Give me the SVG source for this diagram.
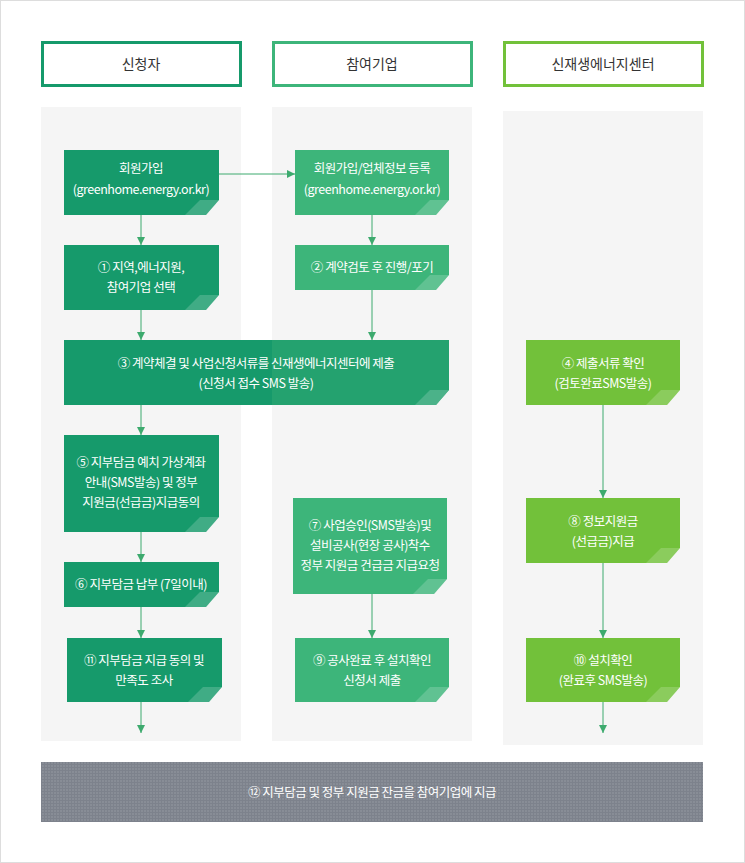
<svg xmlns="http://www.w3.org/2000/svg" width="745" height="863" viewBox="0 0 745 863">
<style>
.t{font-family:"Noto Sans CJK KR","Noto Sans",sans-serif;font-size:12.5px;fill:#fff;text-anchor:middle;letter-spacing:-0.5px}
.h{font-family:"Noto Sans CJK KR","Noto Sans",sans-serif;font-size:14px;fill:#333;text-anchor:middle}
.c{stroke:#3daa6e;stroke-width:1;fill:none;marker-end:url(#a)}
.f{fill:#fff;fill-opacity:0.18}
</style>
<defs>
<marker id="a" viewBox="0 0 8 8" refX="8" refY="4" markerWidth="8" markerHeight="8" markerUnits="userSpaceOnUse" orient="auto"><path d="M0,0 L8,4 L0,8z" fill="#3daa6e"/></marker>
<pattern id="g" width="3" height="3" patternUnits="userSpaceOnUse"><rect width="3" height="3" fill="#7d828c"/><rect width="2" height="2" fill="#888d96"/></pattern>
</defs>
<rect x="0.5" y="0.5" width="744" height="862" fill="#fff" stroke="#ddd"/>
<g id="headers">
<rect x="42.5" y="42.5" width="198" height="43" fill="#fff" stroke="#169a6b" stroke-width="3"/>
<text class="h" x="141" y="69">신청자</text>
<rect x="273.5" y="42.5" width="198" height="43" fill="#fff" stroke="#3db57a" stroke-width="3"/>
<text class="h" x="372" y="69">참여기업</text>
<rect x="504.5" y="42.5" width="198" height="43" fill="#fff" stroke="#72c13a" stroke-width="3"/>
<text class="h" x="603" y="69">신재생에너지센터</text>
</g>
<g id="lanes" fill="#f5f5f5">
<rect x="41" y="107" width="200" height="634"/>
<rect x="272" y="107" width="200" height="634"/>
<rect x="503" y="111" width="200" height="634"/>
</g>
<g id="connectors">
<line class="c" x1="219" y1="174" x2="295" y2="174"/>
<line class="c" x1="141" y1="215" x2="141" y2="245"/>
<line class="c" x1="141" y1="310" x2="141" y2="340"/>
<line class="c" x1="141" y1="405" x2="141" y2="435"/>
<line class="c" x1="141" y1="532" x2="141" y2="562"/>
<line class="c" x1="141" y1="607" x2="141" y2="638"/>
<line class="c" x1="141" y1="702" x2="141" y2="733"/>
<line class="c" x1="372" y1="215" x2="372" y2="245"/>
<line class="c" x1="372" y1="290" x2="372" y2="340"/>
<line class="c" x1="372" y1="594" x2="372" y2="638"/>
<line class="c" x1="603" y1="405" x2="603" y2="498"/>
<line class="c" x1="603" y1="563" x2="603" y2="638"/>
<line class="c" x1="603" y1="702" x2="603" y2="733"/>
</g>
<g id="n1"><polygon points="64,150 219,150 219,200 206,215 64,215" fill="#169a6b"/><polygon class="f" points="185,215 200,200 219,200 206,215"/>
<text class="t" x="141" y="173">회원가입</text><text class="t" x="141" y="194">(greenhome.energy.or.kr)</text></g>
<g id="n_1"><polygon points="64,245 219,245 219,295 206,310 64,310" fill="#169a6b"/><polygon class="f" points="185,310 200,295 219,295 206,310"/>
<text class="t" x="141" y="272">① 지역,에너지원,</text><text class="t" x="141" y="292">참여기업 선택</text></g>
<g id="n3"><polygon points="64,340 449,340 449,390 436,405 64,405" fill="#169a6b"/><polygon points="272,340 449,340 449,390 436,405 272,405" fill="#2fa872" opacity="0.6"/><polygon class="f" points="415,405 430,390 449,390 436,405"/>
<text class="t" x="256" y="368">③ 계약체결 및 사업신청서류를 신재생에너지센터에 제출</text><text class="t" x="256" y="388">(신청서 접수 SMS 발송)</text></g>
<g id="n5"><polygon points="64,435 219,435 219,517 206,532 64,532" fill="#169a6b"/><polygon class="f" points="185,532 200,517 219,517 206,532"/>
<text class="t" x="141" y="467">⑤ 지부담금 예치 가상계좌</text><text class="t" x="141" y="487">안내(SMS발송) 및 정부</text><text class="t" x="141" y="507">지원금(선급금)지급동의</text></g>
<g id="n6"><polygon points="64,562 219,562 219,592 206,607 64,607" fill="#169a6b"/><polygon class="f" points="185,607 200,592 219,592 206,607"/>
<text class="t" x="141" y="589">⑥ 지부담금 납부 (7일이내)</text></g>
<g id="n11"><polygon points="67,638 222,638 222,687 209,702 67,702" fill="#169a6b"/><polygon class="f" points="188,702 203,687 222,687 209,702"/>
<text class="t" x="144" y="665">⑪ 지부담금 지급 동의 및</text><text class="t" x="144" y="685">만족도 조사</text></g>
<g id="m1"><polygon points="295,150 449,150 449,200 436,215 295,215" fill="#3db57a"/><polygon class="f" points="415,215 430,200 449,200 436,215"/>
<text class="t" x="372" y="173">회원가입/업체정보 등록</text><text class="t" x="372" y="194">(greenhome.energy.or.kr)</text></g>
<g id="m2"><polygon points="295,245 449,245 449,275 436,290 295,290" fill="#3db57a"/><polygon class="f" points="415,290 430,275 449,275 436,290"/>
<text class="t" x="372" y="272">② 계약검토 후 진행/포기</text></g>
<g id="m7"><polygon points="293,498 447,498 447,579 434,594 293,594" fill="#3db57a"/><polygon class="f" points="413,594 428,579 447,579 434,594"/>
<text class="t" x="370" y="530">⑦ 사업승인(SMS발송)및</text><text class="t" x="370" y="550">설비공사(현장 공사)착수</text><text class="t" x="370" y="570">정부 지원금 건급금 지급요청</text></g>
<g id="m9"><polygon points="295,638 449,638 449,687 436,702 295,702" fill="#3db57a"/><polygon class="f" points="415,702 430,687 449,687 436,702"/>
<text class="t" x="372" y="665">⑨ 공사완료 후 설치확인</text><text class="t" x="372" y="685">신청서 제출</text></g>
<g id="c4"><polygon points="526,340 680,340 680,390 667,405 526,405" fill="#72c13a"/><polygon class="f" points="646,405 661,390 680,390 667,405"/>
<text class="t" x="603" y="368">④ 제출서류 확인</text><text class="t" x="603" y="388">(검토완료SMS발송)</text></g>
<g id="c8"><polygon points="526,498 680,498 680,548 667,563 526,563" fill="#72c13a"/><polygon class="f" points="646,563 661,548 680,548 667,563"/>
<text class="t" x="603" y="526">⑧ 정보지원금</text><text class="t" x="603" y="546">(선급금)지급</text></g>
<g id="c10"><polygon points="526,638 680,638 680,687 667,702 526,702" fill="#72c13a"/><polygon class="f" points="646,702 661,687 680,687 667,702"/>
<text class="t" x="603" y="665">⑩ 설치확인</text><text class="t" x="603" y="685">(완료후 SMS발송)</text></g>
<g id="n12"><rect x="41" y="762" width="662" height="60" fill="url(#g)"/>
<text class="t" x="372" y="797">⑫ 지부담금 및 정부 지원금 잔금을 참여기업에 지급</text></g>
</svg>
